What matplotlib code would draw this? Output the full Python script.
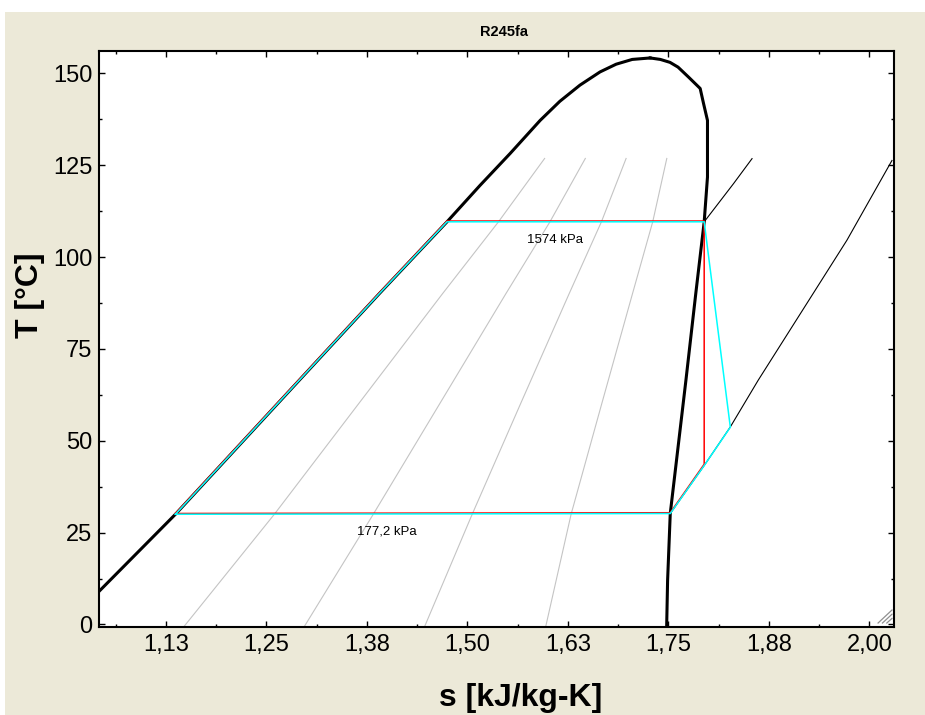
import matplotlib
matplotlib.use("Agg")
import matplotlib.pyplot as plt
import matplotlib.transforms as mtransforms
from matplotlib.patches import Rectangle
from matplotlib.lines import Line2D

plt.rcParams['font.family'] = ['Liberation Sans', 'DejaVu Sans']

# --- R245fa saturation dome (s in kJ/kg-K, T in °C) ---
sat_liq_s = [1.0008, 1.0424, 1.137, 1.2636, 1.3903, 1.4747, 1.5157, 1.5532, 1.5905, 1.6150, 1.6400, 1.6650, 1.6850, 1.7050, 1.7273]
sat_liq_T = [0.0, 9.1, 30.0, 60.0, 90.0, 109.6, 119.5, 128.2, 137.2, 142.4, 146.8, 150.4, 152.5, 153.8, 154.2]
sat_vap_s = [1.7273, 1.740, 1.752, 1.762, 1.775, 1.7895, 1.7937, 1.7986, 1.7986, 1.7945, 1.784, 1.7718, 1.7523, 1.749, 1.7478]
sat_vap_T = [154.2, 153.8, 153.0, 151.7, 149.0, 145.9, 141.8, 137.2, 121.8, 109.6, 90.0, 66.5, 30.2, 12.0, -1.0]

# --- constant quality lines (x = 0.2, 0.4, 0.6, 0.8) ---
quality_T = [-1.0, 30.0, 60.0, 90.0, 109.6, 126.85]
quality_s = {
    0.2: [1.146, 1.260, 1.3645, 1.469, 1.5387, 1.5961],
    0.4: [1.296, 1.383, 1.4654, 1.5478, 1.6027, 1.6467],
    0.6: [1.446, 1.506, 1.566, 1.6265, 1.6667, 1.6974],
    0.8: [1.597, 1.629, 1.667, 1.7053, 1.7305, 1.748],
}

# --- superheated isobars ---
isobar_low_s = [1.7523, 1.7949, 1.8268, 1.8617, 1.972, 2.028]
isobar_low_T = [30.2, 43.4, 53.7, 66.5, 104.6, 126.3]
isobar_high_s = [1.7945, 1.831, 1.854]
isobar_high_T = [109.6, 120.0, 126.8]

# --- ORC cycles: isentropic (red) and real expansion (cyan) ---
ideal_s = [1.137, 1.2636, 1.3903, 1.4747, 1.7945, 1.7945, 1.7523, 1.137]
ideal_T = [30.0, 60.0, 90.0, 109.6, 109.6, 43.4, 30.2, 30.0]
real_s = [1.137, 1.2636, 1.3903, 1.4747, 1.7945, 1.827, 1.7949, 1.7523, 1.137]
real_T = [30.0, 60.0, 90.0, 109.6, 109.6, 53.7, 43.4, 30.2, 30.0]

# pressure labels
p_labels = ["1574 kPa", "177,2 kPa"]
p_label_s = [1.6095, 1.4]
p_label_T = [104.7, 25.2]

# axis ticks
x_ticks = [1.125, 1.25, 1.375, 1.5, 1.625, 1.75, 1.875, 2.0]
x_tick_labels = ["1,13", "1,25", "1,38", "1,50", "1,63", "1,75", "1,88", "2,00"]
y_ticks = [0, 25, 50, 75, 100, 125, 150]

fig = plt.figure(figsize=(9.25, 7.15), dpi=100)
fig.patch.set_facecolor('white')
fig.add_artist(Rectangle((5 / 925, 0), 920 / 925, 703 / 715,
                         transform=fig.transFigure, facecolor='#ECE9D8',
                         edgecolor='none', zorder=-10))

ax = fig.add_axes([0.1074, 0.1235, 0.8595, 0.8052])
ax.set_facecolor('white')

for q, s_vals in quality_s.items():
    ax.plot(s_vals, quality_T, color='#C4C4C4', lw=0.8, zorder=1)

ax.plot(isobar_low_s, isobar_low_T, color='black', lw=0.8, zorder=2)
ax.plot(isobar_high_s, isobar_high_T, color='black', lw=0.8, zorder=2)

ax.plot(sat_liq_s, sat_liq_T, color='black', lw=2.2, zorder=3, solid_joinstyle='round')
ax.plot(sat_vap_s, sat_vap_T, color='black', lw=2.2, zorder=3, solid_joinstyle='round')

red_off = mtransforms.offset_copy(ax.transData, fig=fig, x=0, y=0.8, units='dots')
ax.plot(ideal_s, ideal_T, color='#FF0000', lw=1.1, zorder=4, transform=red_off)
ax.plot(real_s, real_T, color='#00FFFF', lw=1.1, zorder=5)

for txt, s, t in zip(p_labels, p_label_s, p_label_T):
    ax.text(s, t, txt, fontsize=9.5, ha='center', va='center', zorder=6)

ax.set_xlim(1.0424, 2.031)
ax.set_ylim(-0.6, 156.1)
ax.set_xticks(x_ticks)
ax.set_xticklabels(x_tick_labels)
ax.set_xticks([1.0625 + 0.125 * i for i in range(8)], minor=True)
ax.set_yticks(y_ticks)
ax.set_yticks([12.5 + 25 * i for i in range(6)], minor=True)

ax.tick_params(which='both', direction='in', top=True, right=True,
               labelsize=17, width=1.0, color='black')
ax.tick_params(which='major', length=4.5, pad=5)
ax.tick_params(which='minor', length=2.3)
for sp in ax.spines.values():
    sp.set_linewidth(1.5)
    sp.set_color('black')

ax.set_xlabel('s [kJ/kg-K]', fontsize=23, fontweight='bold', va='center')
ax.set_ylabel('T [°C]', fontsize=23, fontweight='bold', va='center')
ax.xaxis.set_label_coords(0.53, -0.124)
ax.yaxis.set_label_coords(-0.087, 0.576)

fig.text(504 / 925, 1 - 32 / 715, 'R245fa', fontsize=10.5, fontweight='bold',
         ha='center', va='center')

# window resize grip in the lower-right corner
for k in range(3):
    x0 = 0.9795 + k * 0.0055
    ax.add_line(Line2D([x0, 0.997], [0.0064, 0.029 - k * 0.0073],
                       transform=ax.transAxes, color='#909090', lw=0.9,
                       zorder=7, clip_on=False))

fig.savefig('out.png', dpi=100, facecolor=fig.get_facecolor())
